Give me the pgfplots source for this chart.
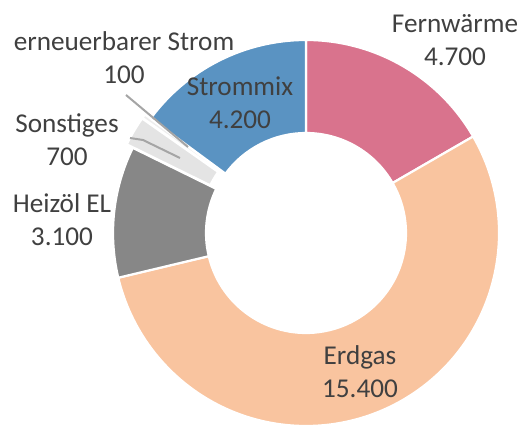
\documentclass[border=0pt]{standalone}
\usepackage{pgfplots}
\pgfplotsset{compat=1.18}
\usepackage{pgfplotstable}
\usepackage{fontspec}
\setmainfont{Carlito}
\definecolor{cFern}{HTML}{D9738D}
\definecolor{cErd}{HTML}{F9C49F}
\definecolor{cHeiz}{HTML}{878787}
\definecolor{cSon}{HTML}{E4E4E4}
\definecolor{cErn}{HTML}{EEEEEE}
\definecolor{cStrom}{HTML}{5A93C2}
\definecolor{txt}{HTML}{404040}
\definecolor{leader}{HTML}{A5A5A5}
\pgfplotstableread{
name value color explode
Fernwaerme 4700 cFern 0
Erdgas 15400 cErd 0
Heizoel 3100 cHeiz 0
Sonstiges 700 cSon 3.5
ernStrom 100 cErn 3.5
Strommix 4200 cStrom 0
}\donut
\begin{document}
\begin{tikzpicture}
\def\total{0}
\pgfplotsforeachungrouped \i in {0,...,5}{%
  \pgfplotstablegetelem{\i}{value}\of\donut
  \pgfmathsetmacro\total{\total+\pgfplotsretval/100}%
}
\def\R{96.5pt}
\def\r{50pt}
\def\cum{0}
\begin{axis}[
  hide axis, scale only axis, clip=false,
  width=263.5pt, height=213.5pt,
  xmin=0, xmax=527, ymin=0, ymax=427, y dir=reverse,
]
\pgfplotsforeachungrouped \i in {0,...,5}{%
  \pgfplotstablegetelem{\i}{value}\of\donut \let\v\pgfplotsretval
  \pgfplotstablegetelem{\i}{color}\of\donut \let\c\pgfplotsretval
  \pgfplotstablegetelem{\i}{explode}\of\donut \let\e\pgfplotsretval
  \pgfmathsetmacro\aone{90-\cum/\total*360}%
  \pgfmathsetmacro\cum{\cum+\v/100}%
  \pgfmathsetmacro\atwo{90-\cum/\total*360}%
  \pgfmathsetmacro\amid{(\aone+\atwo)/2}%
  \edef\doslice{\noexpand\fill[\c, draw=white, line width=1.1pt, shift={(axis cs:306,233)}, shift={(\amid:\e pt)}]
    (\aone:\R) arc[start angle=\aone, end angle=\atwo, radius=\R] --
    (\atwo:\r) arc[start angle=\atwo, end angle=\aone, radius=\r] -- cycle;}%
  \doslice
}
\draw[leader, line width=1pt] (axis cs:126,95) -- (axis cs:188,147);
\draw[leader, line width=1pt] (axis cs:130,138) -- (axis cs:143,140) -- (axis cs:180,158);
\begin{scope}[every node/.style={text=txt, align=center, font=\fontsize{13.6}{16.5}\selectfont}]
\node at (axis cs:455,40) {Fernwärme\\4.700};
\node at (axis cs:124,58) {erneuerbarer Strom\\100};
\node at (axis cs:240,103) {Strommix\\4.200};
\node at (axis cs:67,140) {Sonstiges\\700};
\node at (axis cs:62,220) {Heizöl EL\\3.100};
\node at (axis cs:360,372) {Erdgas\\15.400};
\end{scope}
\end{axis}
\pgfresetboundingbox
\path (current axis.south west) rectangle (current axis.north east);
\end{tikzpicture}
\end{document}
